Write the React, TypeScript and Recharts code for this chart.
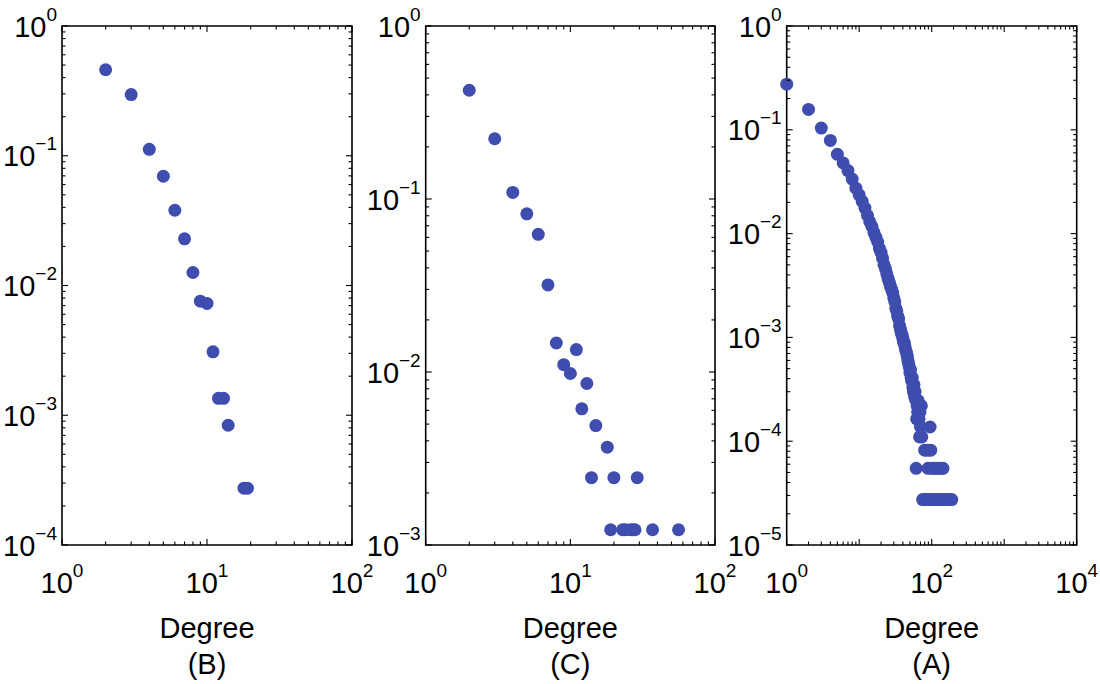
import React from 'react';
import { ScatterChart, Scatter, XAxis, YAxis, ReferenceArea } from 'recharts';

const CHART_W = 1100;
const CHART_H = 684;
const PLOT_TOP = 26;
const PLOT_BOTTOM = 545;
const AXIS_SIZE = 2;
const DOT_COLOR = '#3F4DAE';
const FONT = '"Liberation Sans", Arial, Helvetica, sans-serif';
const FONT_SIZE = 29;
const SUP_SIZE = 19;

const xAxisTitle = 'Degree';

// ---- Panel (B) ----
const degreesB = [2, 3, 4, 5, 6, 7, 8, 9, 10, 11, 12, 13, 14, 18, 19];
const probB = [0.46, 0.296, 0.112, 0.0695, 0.038, 0.0229, 0.0126, 0.00757, 0.00728, 0.00308, 0.00135, 0.00135, 0.000837, 0.000274, 0.000274];
const xDomainB = [1, 100];
const yDomainB = [0.0001, 1];

// ---- Panel (C) ----
const degreesC = [2, 3, 4, 5, 6, 7, 8, 9, 10, 11, 12, 13, 14, 15, 18, 19, 20, 23, 24, 26, 27, 28, 29, 37, 56];
const probC = [0.4252, 0.223, 0.1091, 0.0821, 0.0625, 0.03186, 0.01471, 0.01103, 0.009804, 0.01348, 0.006127, 0.008578, 0.002451, 0.004902, 0.003676, 0.0012255, 0.002451, 0.0012255, 0.0012255, 0.0012255, 0.0012255, 0.0012255, 0.002451, 0.0012255, 0.0012255];
const xDomainC = [1, 100];
const yDomainC = [0.001, 1];

// ---- Panel (A) ----
const degreesA = [
  1, 2, 3, 4, 5, 6, 7, 8, 9, 10,
  11, 12, 13, 14, 15, 16, 17, 18, 19, 20,
  21, 22, 23, 24, 25, 26, 27, 28, 29, 30,
  31, 32, 33, 34, 35, 36, 37, 38, 39, 40,
  41, 42, 43, 44, 45, 46, 47, 48, 49, 50,
  51, 52, 53, 54, 55, 56, 57, 58, 59, 60,
  61, 62, 63, 64, 65, 66, 67, 68, 69, 70,
  72, 73, 75, 80, 82, 86, 88, 89, 92, 95,
  97, 98, 100, 104, 108, 112, 115, 120, 125, 130,
  135, 140, 143, 150, 160, 172, 189,
];
const probA = [
  0.275, 0.157, 0.104, 0.079, 0.058, 0.048, 0.0405, 0.0335, 0.0274, 0.0236,
  0.0204, 0.0176, 0.015, 0.013, 0.0117, 0.0102, 0.0092, 0.0083, 0.0072, 0.0066,
  0.0058, 0.005, 0.0046, 0.0041, 0.0037, 0.0034, 0.0031, 0.0029, 0.0027, 0.0024,
  0.0022, 0.0019, 0.0018, 0.0016, 0.0015, 0.0013, 0.0012, 0.0011, 0.00105, 0.00098,
  0.0009, 0.00088, 0.0008, 0.00074, 0.00071, 0.00066, 0.0006, 0.00056, 0.00052, 0.00046,
  0.00049, 0.00041, 0.00038, 0.00041, 0.00033, 0.0003, 0.00035, 0.00027, 0.0003, 0.00025,
  0.0000548, 0.000164, 0.000219, 0.000192, 0.000246, 0.000192, 0.000164, 0.00011, 0.000192, 0.000137,
  0.000219, 0.00011, 0.0000274, 0.000082, 0.0000274, 0.0000274, 0.000082, 0.0000548, 0.0000274, 0.000137,
  0.000082, 0.0000274, 0.0000548, 0.0000274, 0.0000548, 0.0000274, 0.0000548, 0.0000274, 0.0000548, 0.0000274,
  0.0000548, 0.0000274, 0.0000548, 0.0000274, 0.0000274, 0.0000274, 0.0000274,
];
const xDomainA = [1, 10000];
const yDomainA = [0.00001, 1];

type Panel = {
  label: string;
  degrees: number[];
  probs: number[];
  xDomain: number[];
  yDomain: number[];
  xMajor: number[];
  left: number;
  right: number;
};

const panels: Panel[] = [
  { label: '(B)', degrees: degreesB, probs: probB, xDomain: xDomainB, yDomain: yDomainB, xMajor: [1, 10, 100], left: 62, right: 352 },
  { label: '(C)', degrees: degreesC, probs: probC, xDomain: xDomainC, yDomain: yDomainC, xMajor: [1, 10, 100], left: 425.7, right: 715 },
  { label: '(A)', degrees: degreesA, probs: probA, xDomain: xDomainA, yDomain: yDomainA, xMajor: [1, 100, 10000], left: 786.7, right: 1076.7 },
];

const MAJOR_LEN = 6;
const MINOR_LEN = 3.5;

function logTicks(lo: number, hi: number): number[] {
  const out: number[] = [];
  const a = Math.round(Math.log10(lo));
  const b = Math.round(Math.log10(hi));
  for (let e = a; e < b; e++) {
    for (let k = 1; k <= 9; k++) out.push(k * Math.pow(10, e));
  }
  out.push(Math.pow(10, b));
  return out;
}

function isDecade(v: number): boolean {
  const l = Math.log10(v);
  return Math.abs(l - Math.round(l)) < 1e-6;
}

function expText(v: number): string {
  const e = Math.round(Math.log10(v));
  return e < 0 ? '\u2212' + Math.abs(e) : String(e);
}

function makeXTick(plotH: number, labelled: number[]) {
  return (props: any) => {
    const { x, payload } = props;
    const y = PLOT_BOTTOM;
    const v = payload.value;
    const major = isDecade(v);
    const len = major ? MAJOR_LEN : MINOR_LEN;
    const showLabel = labelled.some((m) => Math.abs(Math.log10(m) - Math.log10(v)) < 1e-6);
    return (
      <g>
        <line x1={x} y1={y} x2={x} y2={y - len} stroke="#000" strokeWidth={1.1} />
        <line x1={x} y1={y - plotH} x2={x} y2={y - plotH + len} stroke="#000" strokeWidth={1.1} />
        {showLabel && (
          <text x={x} y={y + 48} textAnchor="middle" fontSize={FONT_SIZE} fontFamily={FONT} fill="#000">
            10<tspan dy={-16} fontSize={SUP_SIZE}>{expText(v)}</tspan>
          </text>
        )}
      </g>
    );
  };
}

function makeYTick(left: number, plotW: number) {
  return (props: any) => {
    const { y, payload } = props;
    const x = left;
    const v = payload.value;
    const major = isDecade(v);
    const len = major ? MAJOR_LEN : MINOR_LEN;
    return (
      <g>
        <line x1={x} y1={y} x2={x + len} y2={y} stroke="#000" strokeWidth={1.1} />
        <line x1={x + plotW} y1={y} x2={x + plotW - len} y2={y} stroke="#000" strokeWidth={1.1} />
        {major && (
          <text x={x - 5} y={y + 10.5} textAnchor="end" fontSize={FONT_SIZE} fontFamily={FONT} fill="#000">
            10<tspan dy={-16} fontSize={SUP_SIZE}>{expText(v)}</tspan>
          </text>
        )}
      </g>
    );
  };
}

const Dot = (p: any) => <circle cx={p.cx} cy={p.cy} r={6.5} fill={DOT_COLOR} />;

function PanelChart({ panel }: { panel: Panel }) {
  const data = panel.degrees.map((d, i) => ({ x: d, y: panel.probs[i] }));
  const plotW = panel.right - panel.left;
  const plotH = PLOT_BOTTOM - PLOT_TOP;
  const cx = (panel.left + panel.right) / 2;
  const XLabel = () => (
    <g>
      <text x={cx} y={PLOT_BOTTOM + 93} textAnchor="middle" fontSize={FONT_SIZE} fontFamily={FONT} fill="#000">
        {xAxisTitle}
      </text>
      <text x={cx} y={PLOT_BOTTOM + 129} textAnchor="middle" fontSize={FONT_SIZE} fontFamily={FONT} fill="#000">
        {panel.label}
      </text>
    </g>
  );
  return (
    <div style={{ position: 'absolute', left: 0, top: 0 }}>
      <ScatterChart
        width={CHART_W}
        height={CHART_H}
        margin={{ top: PLOT_TOP, bottom: CHART_H - PLOT_BOTTOM - AXIS_SIZE, left: panel.left - AXIS_SIZE, right: CHART_W - panel.right }}
      >
        <XAxis
          dataKey="x"
          type="number"
          scale="log"
          domain={panel.xDomain}
          ticks={logTicks(panel.xDomain[0], panel.xDomain[1])}
          interval={0}
          height={AXIS_SIZE}
          tickSize={0}
          tickMargin={0}
          axisLine={false}
          tickLine={false}
          tick={makeXTick(plotH, panel.xMajor)}
          label={{ content: XLabel }}
        />
        <YAxis
          dataKey="y"
          type="number"
          scale="log"
          domain={panel.yDomain}
          ticks={logTicks(panel.yDomain[0], panel.yDomain[1])}
          interval={0}
          width={AXIS_SIZE}
          tickSize={0}
          tickMargin={0}
          axisLine={false}
          tickLine={false}
          tick={makeYTick(panel.left, plotW)}
        />
        <ReferenceArea
          x1={panel.xDomain[0]}
          x2={panel.xDomain[1]}
          y1={panel.yDomain[0]}
          y2={panel.yDomain[1]}
          fill="none"
          fillOpacity={0}
          stroke="#000"
          strokeWidth={1.6}
          ifOverflow="visible"
        />
        <Scatter data={data} shape={Dot} isAnimationActive={false} />
      </ScatterChart>
    </div>
  );
}

export default function App() {
  return (
    <div style={{ position: 'absolute', left: 0, top: 0, width: CHART_W, height: CHART_H, background: '#fff' }}>
      {panels.map((p) => (
        <PanelChart key={p.label} panel={p} />
      ))}
    </div>
  );
}
